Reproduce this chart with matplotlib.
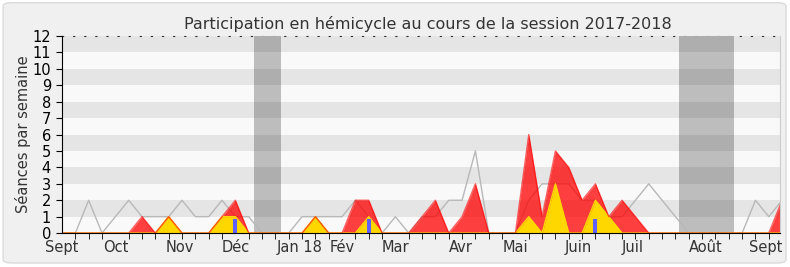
import numpy as np
import matplotlib
matplotlib.use("Agg")
import matplotlib.pyplot as plt
from matplotlib.patches import FancyBboxPatch

# weekly values, week 0 = first week of September 2017
weeks = np.arange(55)
mean_dep = [0, 0, 2, 0, 1, 2, 1, 1, 1, 2, 1, 1, 2, 1, 1, 0, 0, 0, 1, 1,
            1, 1, 2, 1, 0, 1, 0, 1, 1, 2, 2, 5, 0, 0, 0, 2, 3, 3, 3, 2,
            2, 1, 1, 2, 3, 2, 1, 0, 0, 0, 0, 0, 2, 1, 2]
presence = [0, 0, 0, 0, 0, 0, 1, 0, 1, 0, 0, 0, 1, 2, 0, 0, 0, 0, 0, 1,
            0, 0, 2, 2, 0, 0, 0, 1, 2, 0, 1, 3, 0, 0, 0, 6, 1, 5, 4, 2,
            3, 1, 2, 1, 0, 0, 0, 0, 0, 0, 0, 0, 0, 0, 2]
interventions = [0, 0, 0, 0, 0, 0, 0, 0, 1, 0, 0, 0, 1, 1, 0, 0, 0, 0, 0, 1,
                 0, 0, 0, 1, 0, 0, 0, 0, 0, 0, 0, 0, 0, 0, 0, 1, 0, 3, 0, 0,
                 2, 1, 0, 0, 0, 0, 0, 0, 0, 0, 0, 0, 0, 0, 0]
question_weeks = [13, 23, 40]
question_vals = [0.85, 0.85, 0.85]
vacances = [(14.4, 16.4), (46.3, 50.4)]
month_pos = [0, 4, 8.8, 13, 17.8, 21, 25, 29.9, 34, 38.7, 42.8, 48.3, 52.8]
month_lab = ['Sept', 'Oct', 'Nov', 'Déc', 'Jan 18', 'Fév', 'Mar', 'Avr',
             'Mai', 'Juin', 'Juil', 'Août', 'Sept']

fig = plt.figure(figsize=(7.9, 2.67), dpi=100)
fig.patch.set_facecolor('white')
fig.patches.append(FancyBboxPatch((0.004, 0.015), 0.991, 0.975,
                                  boxstyle="round,pad=0,rounding_size=0.012",
                                  transform=fig.transFigure, facecolor='#F0F0F0',
                                  edgecolor='#DADADA', lw=1, zorder=-10))

ax = fig.add_axes([0.0785, 0.127, 0.909, 0.738])
ax.set_facecolor('#F9F9F9')

# vacation bands, then darker stripes over them
for a, b in vacances:
    ax.axvspan(a, b, color='#BDBDBD', lw=0, zorder=1)
for y in range(1, 12, 2):
    ax.axhspan(y, y + 1, color='black', alpha=0.08, lw=0, zorder=2)

ax.plot(weeks, mean_dep, color='#B8B8B8', lw=1, zorder=3)
ax.fill_between(weeks, presence, color='red', alpha=0.75, lw=0, zorder=4)
ax.fill_between(weeks, interventions, color='#FFD700', lw=0, zorder=5)
ax.plot(weeks, interventions, color='#FFD700', lw=1, zorder=5)
ax.plot(weeks, presence, color='red', lw=1, alpha=0.6, zorder=6)
ax.bar(question_weeks, question_vals, width=0.3, color='#6060FF', zorder=7)

ax.set_xlim(0, 53.85)
ax.set_ylim(0, 12)
ax.set_yticks(range(13))
ax.tick_params(axis='y', labelsize=10.5, length=4, pad=4)
ax.set_xticks(weeks[:54], minor=True)
ax.set_xticks(month_pos)
ax.set_xticklabels(month_lab, fontsize=10.5, color='#333333')
ax.tick_params(axis='x', which='major', length=0, pad=5)
ax.tick_params(axis='x', which='minor', length=4, direction='out')

for s in ax.spines.values():
    s.set_zorder(10)
ax.spines['top'].set_linestyle((0, (1, 9)))
ax.spines['top'].set_color('#333333')
ax.spines['top'].set_zorder(0.5)
ax.spines['right'].set_color('#CCCCCC')
ax.spines['left'].set_color('black')
ax.spines['bottom'].set_color('black')

ax.set_ylabel('Séances par semaine', fontsize=10.5, color='#333333', labelpad=1)
ax.set_title('Participation en hémicycle au cours de la session 2017-2018',
             fontsize=11.5, color='#333333', pad=5, x=0.51)

fig.savefig('out.png', dpi=100, facecolor=fig.get_facecolor())
